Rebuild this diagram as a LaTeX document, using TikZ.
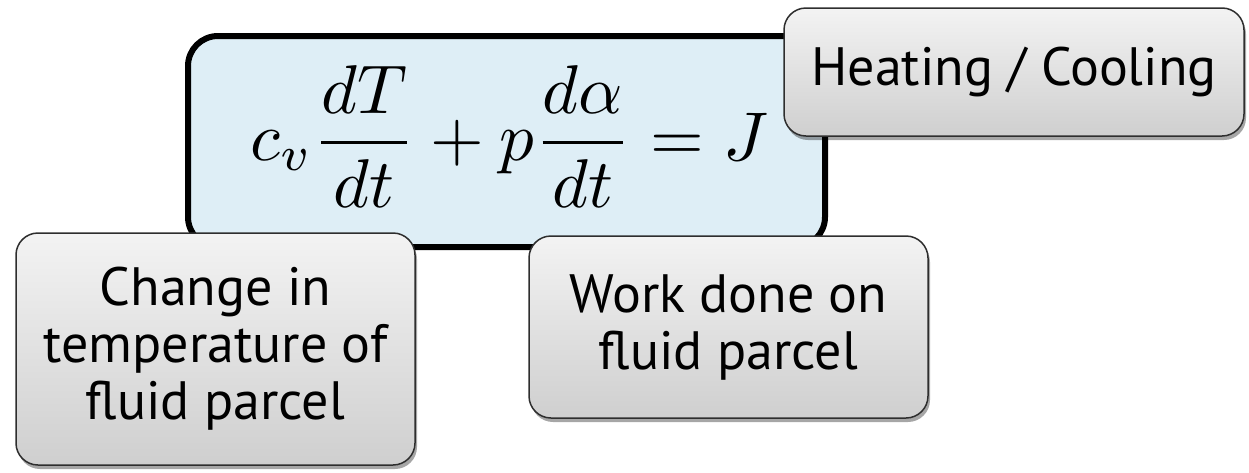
\documentclass[tikz,border=0pt]{standalone}
\usepackage{fontspec}
\setsansfont{PT Sans}
\usetikzlibrary{shadows}
\definecolor{eqblue}{HTML}{DEEEF6}
\definecolor{boxtop}{HTML}{F3F3F3}
\definecolor{boxbot}{HTML}{CFCFCF}
\definecolor{boxline}{HTML}{2E2E2E}
\tikzset{
  eqbox/.style={draw=black, line width=6pt, fill=eqblue, rounded corners=30pt, inner sep=0pt},
  graybox/.style={draw=boxline, line width=1.5pt, rounded corners=22pt, top color=boxtop, bottom color=boxbot,
    drop shadow={shadow xshift=2pt, shadow yshift=-4pt, opacity=0.35, fill=black},
    align=center, inner sep=0pt, font=\sffamily\fontsize{54}{57}\selectfont},
}
\begin{document}
\begin{tikzpicture}[x=1pt,y=-1pt]
\useasboundingbox (0,0) rectangle (1249,472);
\node[eqbox, minimum width=637pt, minimum height=211pt] (eq) at (506.5,141.5) {};
\node[anchor=base west, inner sep=0pt] (eqtext) at (250,160) {\scalebox{6.9}{$\displaystyle c_v\frac{dT}{dt}+p\frac{d\alpha}{dt}=J$}};
\node[graybox, minimum width=460pt, minimum height=128pt] (heat) at (1014,72) {Heating / Cooling};
\node[graybox, minimum width=399pt, minimum height=232pt] (change) at (215.5,349) {Change in\\temperature of\\fluid parcel};
\node[graybox, minimum width=399pt, minimum height=182pt] (work) at (728.5,327) {Work done on\\fluid parcel};
\end{tikzpicture}
\end{document}
